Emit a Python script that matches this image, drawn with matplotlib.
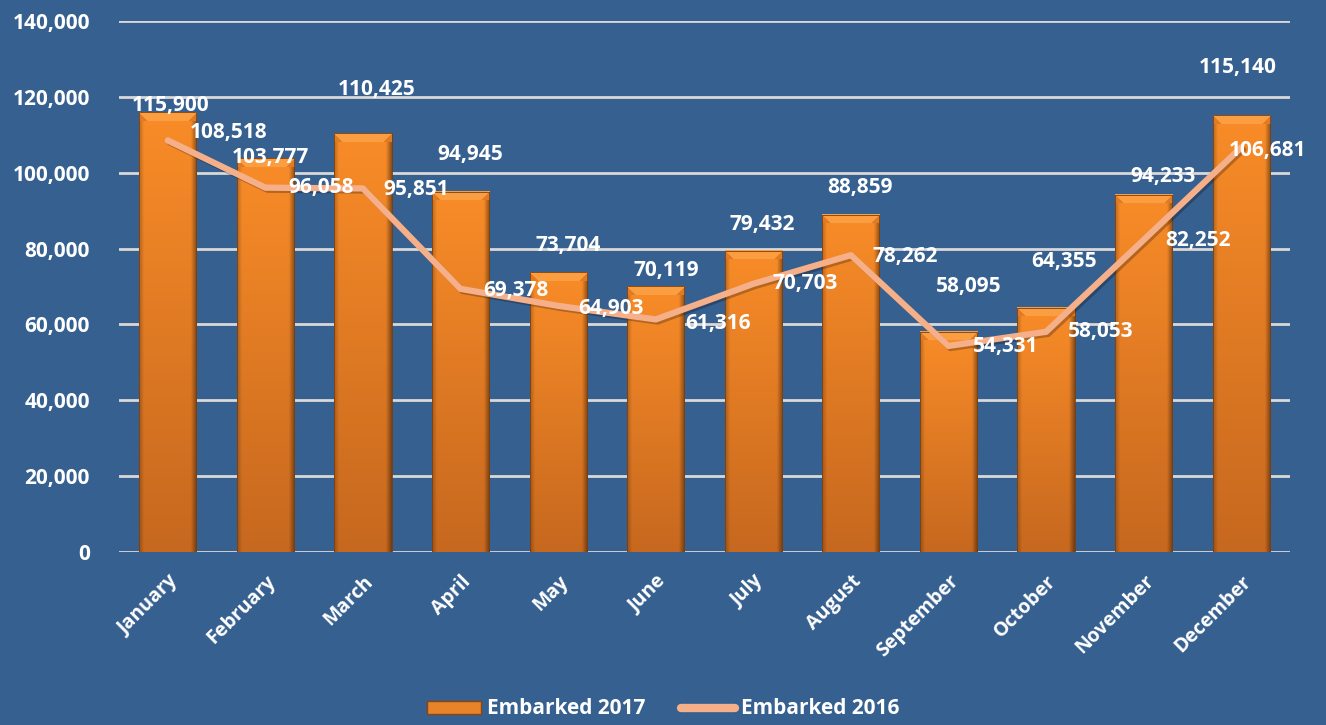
import matplotlib
matplotlib.use("Agg")
import matplotlib.pyplot as plt
import matplotlib.patches as mpatches
import matplotlib.patheffects as pe
from matplotlib.lines import Line2D
import numpy as np

months = ["January", "February", "March", "April", "May", "June", "July",
          "August", "September", "October", "November", "December"]
embarked_2017 = [115900, 103777, 110425, 94945, 73704, 70119, 79432,
                 88859, 58095, 64355, 94233, 115140]
embarked_2016 = [108518, 96058, 95851, 69378, 64903, 61316, 70703,
                 78262, 54331, 58053, 82252, 106681]
y_ticks = [0, 20000, 40000, 60000, 80000, 100000, 120000, 140000]

# label nudges (pixels) to mimic the spreadsheet's placement
bar_lab_dx = [3, 5, 14, 10, 10, 11, 9, 9, 20, 18, 19, -3]
bar_lab_dy = [7, 1, 44, 37, 27, 16, 26, 27, 45, 46, 18, 48]
line_lab_dx = [22, 23, 20, 23, 20, 30, 19, 22, 24, 22, 22, -12]
line_lab_dy = [8, 0, -1, -2, -3, -4, 0, -1, -1, 0, 0, -3]

BG = "#36608F"
GRID = "#D9D9D9"
LINE_C = "#F5B08A"

plt.rcParams["font.family"] = ["Open Sans", "DejaVu Sans"]
plt.rcParams["font.weight"] = "bold"

fig = plt.figure(figsize=(13.26, 7.25), dpi=100)
fig.patch.set_facecolor(BG)
ax = fig.add_axes([119 / 1326, 1 - 552 / 725, 1171 / 1326, 531 / 725])
ax.set_facecolor(BG)

x = np.arange(len(months))
bar_w = 0.585
ymax = 140000


def bar_image(hpx, wpx=57):
    rows = max(int(round(hpx)), 2)
    t = np.linspace(0, 1, rows)[:, None]          # 0 bottom, 1 top
    top = np.array([249, 140, 40]) / 255
    bot = np.array([198, 104, 31]) / 255
    base = bot + (top - bot) * t[..., None]
    u = (np.arange(wpx) + 0.5) / wpx
    dl = u * wpx
    dr = (1 - u) * wpx
    shade = np.minimum(0.75 + 0.25 * np.clip(dl / 5.0, 0, 1),
                       0.55 + 0.45 * np.clip(dr / 6.0, 0, 1))
    img = base * shade[None, :, None] * np.ones((rows, wpx, 1))
    edge = np.minimum(dl, dr)
    # bevelled top face
    bev = 9
    for r in range(min(bev, rows)):
        row = rows - 1 - r
        inner = edge > r
        img[row, inner] = np.array([251, 158, 66]) / 255
        img[row, ~inner] = np.array([226, 122, 36]) / 255
    return np.clip(img, 0, 1)


px_per_val = 531 / ymax
for xi, v in zip(x, embarked_2017):
    img = bar_image(v * px_per_val)
    ax.imshow(img, extent=(xi - bar_w / 2, xi + bar_w / 2, 0, v),
              origin="lower", aspect="auto", zorder=2, interpolation="bilinear")
    ax.add_patch(mpatches.Rectangle((xi - bar_w / 2, 0), bar_w, v, fill=False,
                                    edgecolor="#7A3E0E", lw=0.6, zorder=2.1))
ax.set_xlim(-0.5, len(months) - 0.5)
ax.set_ylim(0, ymax)

ax.plot(x, embarked_2016, color=LINE_C, lw=4.5, solid_capstyle="round",
        solid_joinstyle="round", zorder=3,
        path_effects=[pe.SimpleLineShadow(offset=(1.5, -1.5), alpha=0.25), pe.Normal()])

for xi, v, dx, dy in zip(x, embarked_2017, bar_lab_dx, bar_lab_dy):
    ax.annotate(f"{v:,}", (xi, v), xytext=(dx, dy), textcoords="offset pixels",
                ha="center", va="center", color="white", fontsize=15,
                fontweight="bold", zorder=5)
for xi, v, dx, dy in zip(x, embarked_2016, line_lab_dx, line_lab_dy):
    ax.annotate(f"{v:,}", (xi, v), xytext=(dx, dy), textcoords="offset pixels",
                ha="left", va="center", color="white", fontsize=15,
                fontweight="bold", zorder=5)

ax.set_yticks(y_ticks)
ax.set_yticklabels([f"{t:,}" for t in y_ticks], color="white", fontsize=15,
                   fontweight="bold")
ax.set_xticks(x)
ax.set_xticklabels(months, rotation=45, ha="right", rotation_mode="anchor",
                   color="white", fontsize=14, fontweight="bold")
ax.tick_params(axis="y", length=0, pad=21)
ax.tick_params(axis="x", length=0, pad=14)
ax.grid(axis="y", color=GRID, lw=2)
ax.set_axisbelow(True)
for s in ax.spines.values():
    s.set_visible(False)

bar_handle = mpatches.Patch(facecolor="#E8832A", edgecolor="#8A4510", lw=1)
line_handle = Line2D([], [], color=LINE_C, lw=6, solid_capstyle="round")
fig.legend([bar_handle, line_handle], ["Embarked 2017", "Embarked 2016"],
           loc="center", bbox_to_anchor=(0.5, 1 - 709 / 725), ncol=2,
           frameon=False, labelcolor="white", prop={"size": 15, "weight": "bold"},
           handlelength=2.6, handleheight=0.6, handletextpad=0.3, columnspacing=1.7)

fig.savefig("out.png", dpi=100, facecolor=fig.get_facecolor())
